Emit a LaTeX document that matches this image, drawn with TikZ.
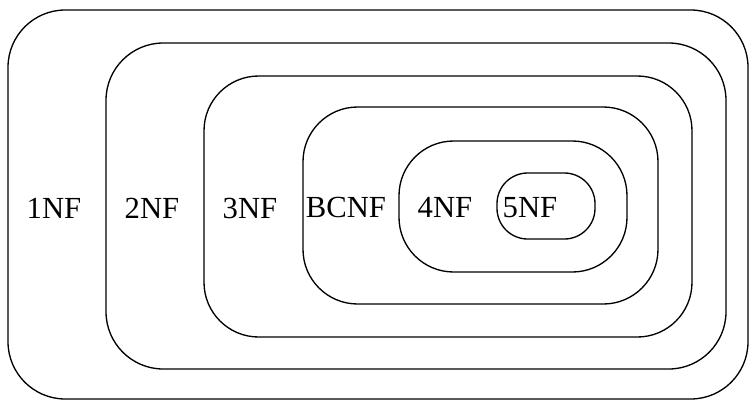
\documentclass[tikz,border=0pt]{standalone}
\usepackage{fontspec}
\setmainfont{Liberation Serif}
\tikzset{
  nf/.style={draw, line width=1pt},
  lbl/.style={anchor=base, inner sep=0pt, font=\fontsize{23}{23}\selectfont}
}
\begin{document}
\begin{tikzpicture}[x=0.75pt,y=-0.75pt]
      \useasboundingbox (0,0) rectangle (749,400);
      % nested normal forms
      \draw [nf, rounded corners=43pt] (8,10) rectangle (748,399);
      \draw [nf, rounded corners=43pt] (106,43) rectangle (726,369);
      \draw [nf, rounded corners=41pt] (204,76) rectangle (692,337);
      \draw [nf, rounded corners=41pt] (303,107) rectangle (658,304);
      \draw [nf, rounded corners=41pt] (399,141) rectangle (627,272);
      \draw [nf, rounded corners=23pt] (497,173) rectangle (595,239);
      \node [lbl] (n1) at (54,218) {1NF};
      \node [lbl] (n2) at (152,218) {2NF};
      \node [lbl] (n3) at (250,218) {3NF};
      \node [lbl] (bc) at (346,217) {BCNF};
      \node [lbl] (n4) at (445,217) {4NF};
      \node [lbl] (n5) at (530,217) {5NF};
    \end{tikzpicture}
\end{document}
